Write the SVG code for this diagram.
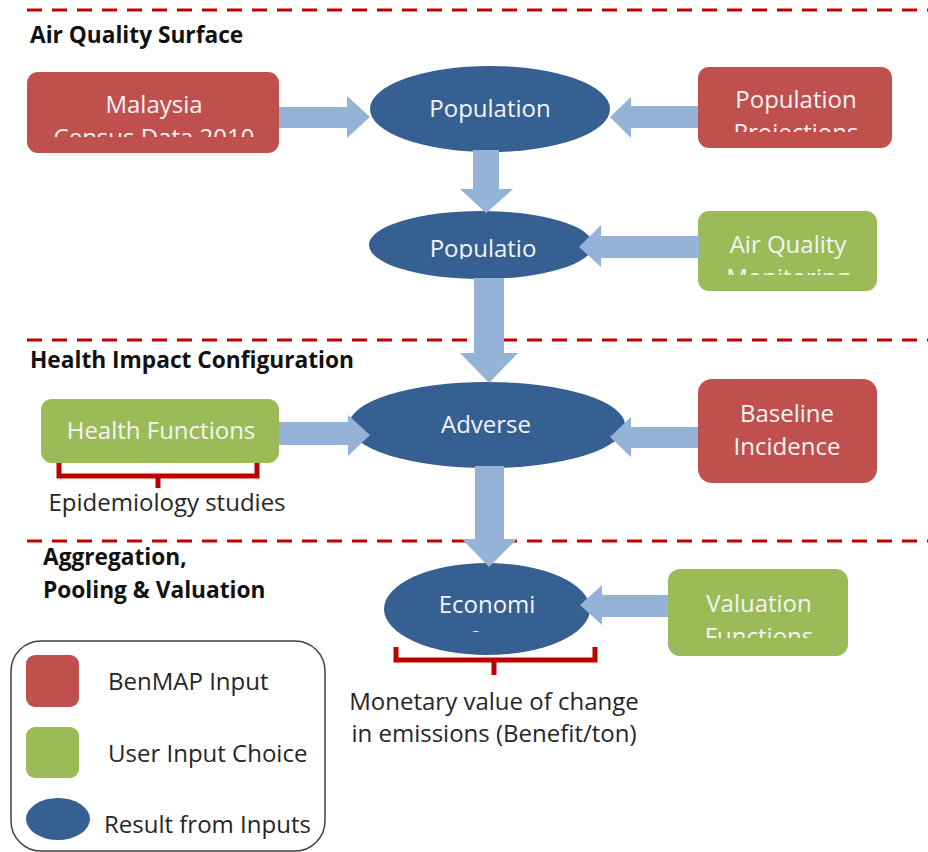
<svg xmlns="http://www.w3.org/2000/svg" width="928" height="852" viewBox="0 0 928 852">
<style>
.bg{fill:#ffffff}
.red{fill:#c0504d}
.green{fill:#9bbb59}
.ell{fill:#366092}
.arr{fill:#95b3d7}
.dash{stroke:#c00000;stroke-width:3;stroke-dasharray:15 10;fill:none}
.brace{stroke:#c00000;stroke-width:5;fill:none;stroke-linejoin:miter}
.bt{font-family:"Open Sans","Noto Sans",sans-serif;font-size:24px;fill:#f4f4f4;text-anchor:middle}
.hd{font-family:"Open Sans","Noto Sans",sans-serif;font-size:22.7px;font-weight:bold;fill:#111111}
.lb{font-family:"Open Sans","Noto Sans",sans-serif;font-size:24px;fill:#262626}
.lbc{font-family:"Open Sans","Noto Sans",sans-serif;font-size:24px;fill:#262626;text-anchor:middle}
.legend{fill:none;stroke:#404040;stroke-width:1.5}
</style>
<defs>
<clipPath id="cMal"><rect x="27" y="72" width="252" height="65"/></clipPath>
<clipPath id="cProj"><rect x="698" y="67" width="194" height="65"/></clipPath>
<clipPath id="cAQ"><rect x="698" y="211" width="179" height="64"/></clipPath>
<clipPath id="cVal"><rect x="668" y="569" width="180" height="69"/></clipPath>
<clipPath id="cPop2"><rect x="380" y="220" width="200" height="39"/></clipPath>
<clipPath id="cEco"><rect x="400" y="580" width="170" height="52"/></clipPath>
</defs>
<rect class="bg" x="0" y="0" width="928" height="852"/>

<g id="section-lines">
<line class="dash" x1="27" y1="10" x2="928" y2="10"/>
<line class="dash" x1="27" y1="340" x2="928" y2="340"/>
<line class="dash" x1="27" y1="541" x2="928" y2="541"/>
</g>

<g id="headings">
<text class="hd" x="30" y="43">Air Quality Surface</text>
<text class="hd" x="30" y="368">Health Impact Configuration</text>
<text class="hd" x="43" y="565">Aggregation,</text>
<text class="hd" x="43" y="598">Pooling &amp; Valuation</text>
</g>

<g id="malaysia-census">
<rect class="red" x="27" y="72" width="252" height="81" rx="11"/>
<g clip-path="url(#cMal)">
<text class="bt" x="154" y="113">Malaysia</text>
<text class="bt" x="154" y="146">Census Data 2010</text>
</g>
</g>

<g id="population-projections">
<rect class="red" x="698" y="67" width="194" height="81" rx="11"/>
<g clip-path="url(#cProj)">
<text class="bt" x="796" y="108">Population</text>
<text class="bt" x="796" y="141">Projections</text>
</g>
</g>

<g id="population">
<ellipse class="ell" cx="490" cy="109" rx="120" ry="43"/>
<text class="bt" x="490" y="117">Population</text>
</g>

<g id="population-exposure">
<ellipse class="ell" cx="481" cy="245" rx="112" ry="34"/>
<g clip-path="url(#cPop2)">
<text class="bt" x="483" y="257">Populatio</text>
</g>
</g>

<g id="air-quality-monitoring">
<rect class="green" x="698" y="211" width="179" height="80" rx="11"/>
<g clip-path="url(#cAQ)">
<text class="bt" x="788" y="253">Air Quality</text>
<text class="bt" x="788" y="286">Monitoring</text>
</g>
</g>

<g id="health-functions">
<rect class="green" x="41" y="399" width="238" height="64" rx="11"/>
<text class="bt" x="161" y="439">Health Functions</text>
</g>

<g id="adverse">
<ellipse class="ell" cx="487" cy="425" rx="138" ry="43"/>
<text class="bt" x="486" y="433">Adverse</text>
</g>

<g id="baseline-incidence">
<rect class="red" x="698" y="379" width="179" height="104" rx="14"/>
<text class="bt" x="787" y="422">Baseline</text>
<text class="bt" x="787" y="455">Incidence</text>
</g>

<g id="economic">
<ellipse class="ell" cx="487" cy="609" rx="103" ry="46"/>
<g clip-path="url(#cEco)">
<text class="bt" x="487" y="613">Economi</text>
<text class="bt" x="474" y="644">c</text>
</g>
</g>

<g id="valuation-functions">
<rect class="green" x="668" y="569" width="180" height="87" rx="12"/>
<g clip-path="url(#cVal)">
<text class="bt" x="759" y="612">Valuation</text>
<text class="bt" x="759" y="645">Functions</text>
</g>
</g>

<g id="connectors">
<polygon class="arr" points="279,107 347,107 347,96 370,117 347,138 347,128 279,128"/>
<polygon class="arr" points="698,106 631,106 631,97 610,117 631,138 631,128 698,128"/>
<polygon class="arr" points="473,150 499,150 499,189 513,189 486,213 460,189 473,189"/>
<polygon class="arr" points="699,236 601,236 601,225 579,247 601,267 601,258 699,258"/>
<polygon class="arr" points="474,278 504,278 504,353 518,353 489,383 460,353 474,353"/>
<polygon class="arr" points="279,422 348,422 348,415 370,435 348,456 348,445 279,445"/>
<polygon class="arr" points="698,427 631,427 631,417 610,437 631,457 631,448 698,448"/>
<polygon class="arr" points="475,466 504,466 504,539 517,539 489,567 462,539 475,539"/>
<polygon class="arr" points="668,595 602,595 602,585 580,605 602,625 602,617 668,617"/>
</g>

<g id="brace-epidemiology">
<polyline class="brace" points="59,463 59,476 257,476 257,463"/>
<line class="brace" x1="158" y1="476" x2="158" y2="488"/>
<text class="lbc" x="167" y="511">Epidemiology studies</text>
</g>

<g id="brace-monetary">
<polyline class="brace" points="396,647 396,660 595,660 595,647"/>
<line class="brace" x1="494" y1="660" x2="494" y2="675"/>
<text class="lbc" x="494" y="710">Monetary value of change</text>
<text class="lbc" x="494" y="742">in emissions (Benefit/ton)</text>
</g>

<g id="legend">
<rect class="legend" x="11" y="641" width="314" height="210" rx="30"/>
<rect class="red" x="26" y="655" width="53" height="52" rx="9"/>
<text class="lb" x="108" y="690">BenMAP Input</text>
<rect class="green" x="26" y="727" width="53" height="51" rx="9"/>
<text class="lb" x="108" y="762">User Input Choice</text>
<ellipse class="ell" cx="58" cy="819" rx="32" ry="21"/>
<text class="lb" x="104" y="833">Result from Inputs</text>
</g>
</svg>
